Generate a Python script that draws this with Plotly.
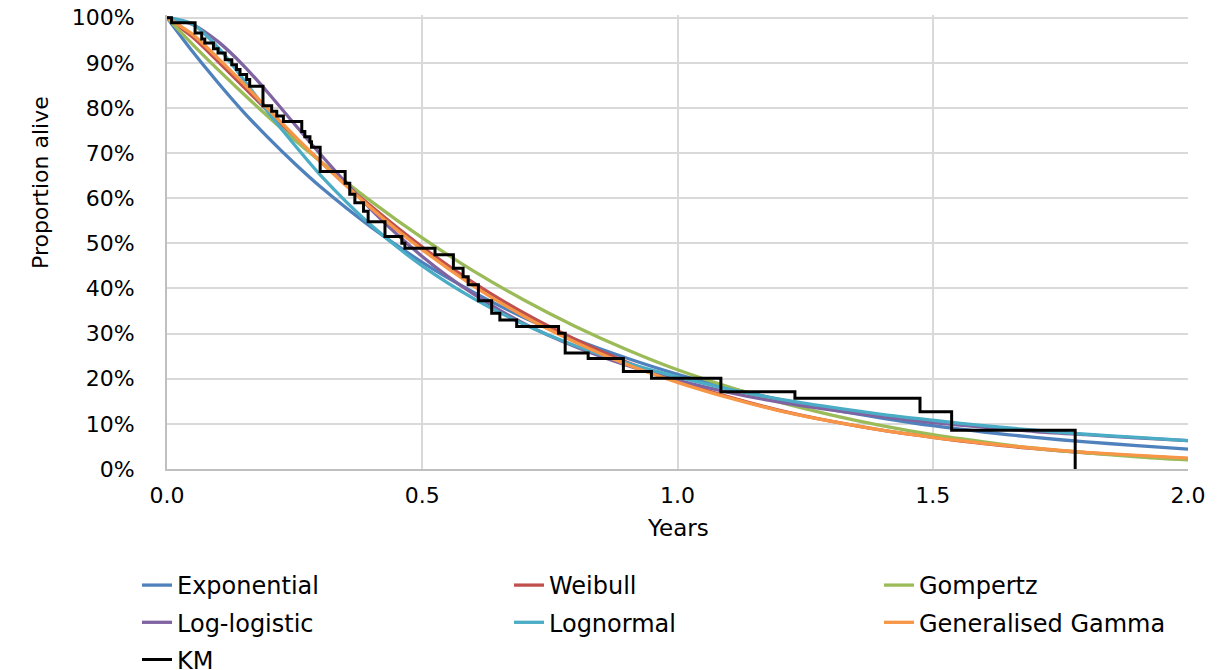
import plotly.graph_objects as go

# ---- data (survival %) ----
t_grid = [0, 0.05, 0.1, 0.15, 0.2, 0.25, 0.3, 0.4, 0.5, 0.6, 0.7, 0.8, 0.9, 1.0,
          1.1, 1.2, 1.3, 1.4, 1.5, 1.6, 1.7, 1.8, 1.9, 2.0]
exponential = [100, 92.5, 85.6, 79.1, 73.2, 67.7, 62.6, 53.6, 45.8, 39.2, 33.5, 28.7, 24.6, 21.0,
               18.0, 15.4, 13.2, 11.3, 9.6, 8.2, 7.0, 6.0, 5.2, 4.4]
weibull = [100, 95.7, 90.3, 84.7, 79.0, 73.5, 68.2, 58.2, 49.2, 41.3, 34.5, 28.7, 23.7, 19.5,
           16.0, 13.0, 10.6, 8.6, 7.0, 5.6, 4.5, 3.6, 2.9, 2.3]
gompertz = [100, 94.1, 88.5, 83.1, 77.9, 72.9, 68.2, 59.3, 51.2, 43.9, 37.4, 31.6, 26.5, 22.0,
            18.2, 14.8, 12.0, 9.6, 7.6, 6.0, 4.6, 3.6, 2.7, 2.0]
loglogistic = [100, 98.5, 94.7, 89.4, 83.1, 76.4, 69.8, 57.5, 47.1, 38.8, 32.2, 27.1, 23.0, 19.7,
               17.0, 14.8, 13.1, 11.6, 10.3, 9.3, 8.3, 7.6, 6.9, 6.3]
lognormal = [100, 98.6, 93.4, 86.3, 78.8, 71.8, 65.2, 54.0, 45.0, 37.8, 32.0, 27.3, 23.5, 20.4,
             17.7, 15.5, 13.7, 12.1, 10.8, 9.6, 8.6, 7.7, 7.0, 6.3]
gen_gamma = [100, 96.3, 91.0, 85.4, 79.5, 73.8, 68.2, 57.8, 48.6, 40.6, 33.8, 28.1, 23.2, 19.2,
             15.8, 12.9, 10.6, 8.6, 7.0, 5.7, 4.6, 3.7, 3.0, 2.4]

km_time = [0, 0.009, 0.055, 0.068, 0.074, 0.091, 0.100, 0.114, 0.127, 0.136, 0.143, 0.156,
           0.162, 0.188, 0.205, 0.215, 0.228, 0.264, 0.270, 0.280, 0.283, 0.300, 0.349,
           0.358, 0.368, 0.385, 0.394, 0.427, 0.460, 0.466, 0.525, 0.561, 0.580, 0.590,
           0.610, 0.636, 0.652, 0.685, 0.767, 0.780, 0.825, 0.894, 0.949, 1.085, 1.230,
           1.475, 1.537, 1.779]
km_surv = [100, 98.9, 96.6, 95.3, 94.4, 93.1, 92.2, 90.7, 89.6, 88.5, 87.4, 86.3,
           84.8, 80.5, 79.3, 78.2, 77.0, 74.8, 73.6, 72.5, 71.3, 65.9, 63.3,
           60.9, 59.0, 57.1, 54.8, 51.5, 50.0, 48.9, 47.5, 44.5, 42.6, 40.8,
           37.3, 34.5, 33.0, 31.6, 30.1, 25.7, 24.5, 21.6, 20.1, 17.1, 15.7,
           12.7, 8.6, 0]

x_ticks = [0, 0.5, 1.0, 1.5, 2.0]
y_ticks = [0, 10, 20, 30, 40, 50, 60, 70, 80, 90, 100]

FONT = "DejaVu Sans"
W, H = 1221, 670
ML, MR, MT, MB = 167, 33, 15, 201

fig = go.Figure()

models = [
    ("Exponential", exponential, "#4F81BD", "legend"),
    ("Weibull", weibull, "#C0504D", "legend2"),
    ("Gompertz", gompertz, "#9BBB59", "legend3"),
    ("Log-logistic", loglogistic, "#8064A2", "legend"),
    ("Lognormal", lognormal, "#4BACC6", "legend2"),
    ("Generalised Gamma", gen_gamma, "#F79646", "legend3"),
]
for name, vals, col, leg in models:
    fig.add_trace(go.Scatter(
        x=t_grid, y=vals, name=name, mode="lines",
        line=dict(color=col, width=3.3, shape="spline", smoothing=0.8),
        legend=leg, legendgroup=name,
    ))

fig.add_trace(go.Scatter(
    x=km_time, y=km_surv, name="KM", mode="lines",
    line=dict(color="black", width=3, shape="hv"),
    legend="legend", legendgroup="KM",
))

leg_common = dict(
    xref="container", yref="container", yanchor="top", xanchor="left",
    font=dict(family=FONT, size=24, color="#000000"),
    bgcolor="rgba(0,0,0,0)", borderwidth=0, tracegroupgap=3,
    orientation="v",
)
top_y = 1 - 563 / H
fig.update_layout(
    legend=dict(x=137 / W, y=top_y, **leg_common),
    legend2=dict(x=509 / W, y=top_y, **leg_common),
    legend3=dict(x=879 / W, y=top_y, **leg_common),
)

fig.update_layout(
    width=W, height=H,
    margin=dict(l=ML, r=MR, t=MT, b=MB, autoexpand=False),
    paper_bgcolor="white", plot_bgcolor="white",
    font=dict(family=FONT, size=22, color="#000000"),
    xaxis=dict(
        range=[0, 2], tickvals=x_ticks, ticktext=[f"{v:.1f}" for v in x_ticks],
        showgrid=True, gridcolor="#D9D9D9", gridwidth=2,
        showline=True, linecolor="#BFBFBF", linewidth=2,
        zeroline=False, ticks="", ticklabelstandoff=6,
        tickfont=dict(family=FONT, size=22, color="#000000"),
    ),
    yaxis=dict(
        range=[0, 100.6], tickvals=y_ticks, ticktext=[f"{v}%" for v in y_ticks],
        showgrid=True, gridcolor="#D9D9D9", gridwidth=2,
        showline=True, linecolor="#BFBFBF", linewidth=2,
        zeroline=False, ticks="", ticklabelstandoff=26,
        tickfont=dict(family=FONT, size=22, color="#000000"),
    ),
    annotations=[
        dict(text="Proportion alive", textangle=-90, showarrow=False,
             xref="paper", yref="paper", x=(40 - ML) / (W - ML - MR), y=(469 - 183) / (H - MT - MB),
             xanchor="center", yanchor="middle",
             font=dict(family=FONT, size=22, color="#000000")),
        dict(text="Years", showarrow=False,
             xref="paper", yref="paper", x=0.5, y=-(528 - 469) / (H - MT - MB),
             xanchor="center", yanchor="middle",
             font=dict(family=FONT, size=23, color="#000000")),
    ],
)

fig.write_html("out.html")
